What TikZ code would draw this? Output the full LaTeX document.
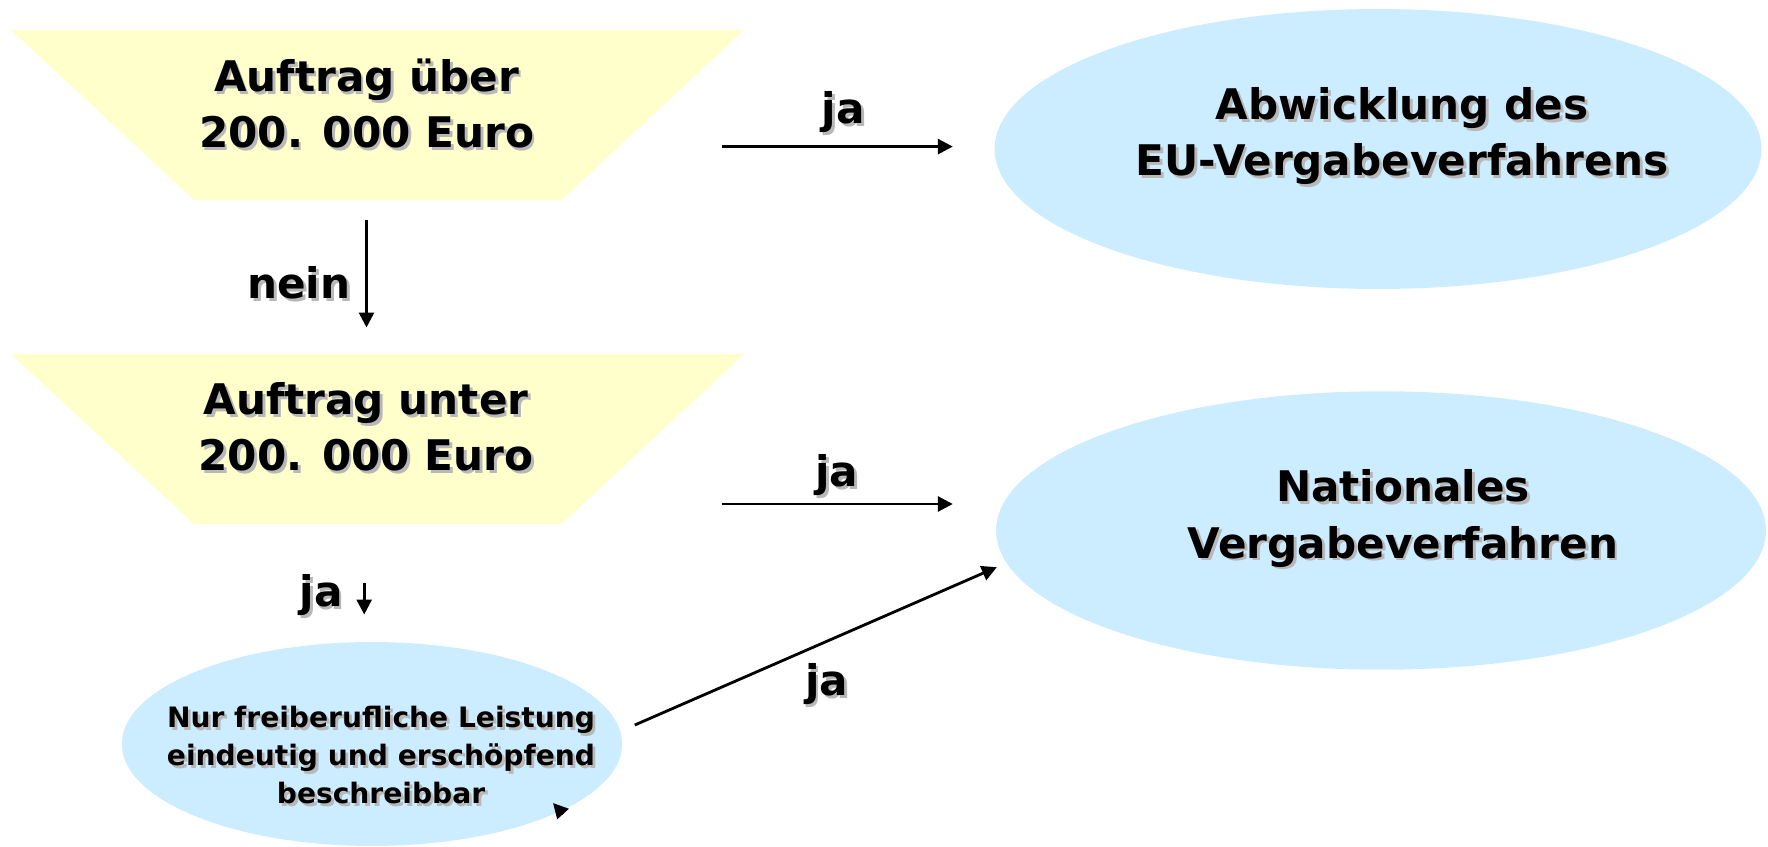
\documentclass[tikz,border=0pt]{standalone}
\usepackage{fontspec}
\setmainfont{DejaVu Sans}
\usetikzlibrary{arrows.meta,shapes.geometric}
\definecolor{gelb}{RGB}{255,255,204}
\definecolor{hellblau}{RGB}{204,236,255}
\newcommand{\schatten}[1]{\makebox[0pt][l]{\hspace{1.6pt}\raisebox{-1.6pt}{\textcolor{black!28}{#1}}}#1}

\begin{document}
\begin{tikzpicture}[x=0.02cm,y=-0.02cm,
    pfeil/.style={line width=1.6pt,-{Triangle[length=8.5pt,width=8.5pt]}},
    gross/.style={font=\bfseries\fontsize{24}{32}\selectfont,align=center,inner sep=0pt},
    klein/.style={font=\bfseries\fontsize{16}{21.7}\selectfont,align=center,inner sep=0pt},
    blase/.style={ellipse,fill=hellblau,inner sep=0pt}]
    \useasboundingbox (0,0) rectangle (1768,847);
    % Trichter
    \fill[gelb] (11,30) -- (744,30) -- (561.5,200) -- (194,200) -- cycle;
    \fill[gelb] (11,354) -- (744,354) -- (561.5,524) -- (194,524) -- cycle;
    \node[gross] (ueber) at (366.5,105) {\schatten{Auftrag über}\\\schatten{200. 000 Euro}};
    \node[gross] (unter) at (366,428.5) {\schatten{Auftrag unter}\\\schatten{200. 000 Euro}};
    % Ellipsen
    \node[blase,minimum width=15.34cm,minimum height=5.6cm] (eu) at (1378,149) {};
    \node[gross] (eutxt) at (1402,137.6) {\schatten{Abwicklung des}\\\schatten{EU-Vergabeverfahrens}};
    \node[blase,minimum width=15.4cm,minimum height=5.57cm] (nat) at (1381,530.5) {};
    \node[gross] (nattxt) at (1403,520) {\schatten{Nationales}\\\schatten{Vergabeverfahren}};
    \node[blase,minimum width=10.01cm,minimum height=4.08cm] (frei) at (372,744) {};
    \node[klein] (freitxt) at (381,756.6) {\schatten{Nur freiberufliche Leistung}\\\schatten{eindeutig und erschöpfend}\\\schatten{beschreibbar}};
    % Pfeile
    \coordinate (a1) at (721.7,146.6);
    \coordinate (b1) at (952.8,146.6);
    \coordinate (a2) at (721.7,504);
    \coordinate (b2) at (952.8,504);
    \coordinate (a3) at (366.5,219.9);
    \coordinate (b3) at (366.5,327.5);
    \coordinate (a4) at (364.2,583);
    \coordinate (b4) at (364.2,614.5);
    \coordinate (a5) at (634.8,725);
    \coordinate (b5) at (996.8,567.2);
    \coordinate (a6) at (563,814);
    \coordinate (b6) at (553,803);
    \draw[pfeil] (a1) -- (b1);
    \draw[pfeil] (a2) -- (b2);
    \draw[pfeil] (a3) -- (b3);
    \draw[pfeil] (a4) -- (b4);
    \draw[pfeil] (a5) -- (b5);
    \draw[pfeil] (a6) -- (b6);
    \node[gross,anchor=base] (ja1) at (843.4,124) {\schatten{ja}};
    \node[gross,anchor=base] (ja2) at (836.7,487) {\schatten{ja}};
    \node[gross,anchor=base] (nein) at (298.8,298.8) {\schatten{nein}};
    \node[gross,anchor=base] (ja3) at (321,606.6) {\schatten{ja}};
    \node[gross,anchor=base] (ja4) at (826.5,695.7) {\schatten{ja}};
\end{tikzpicture}
\end{document}
